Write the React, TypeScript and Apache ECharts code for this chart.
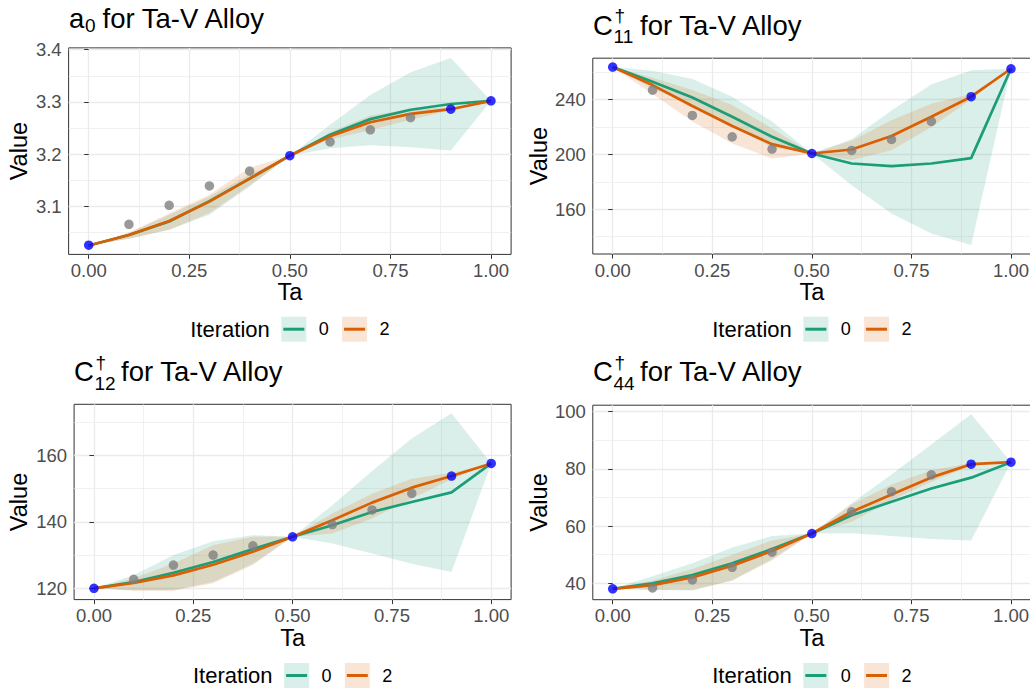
import React, { useEffect, useRef } from "react";
import * as echarts from "echarts";

// ---------- data ----------
const TA = [0, 0.1, 0.2, 0.3, 0.4, 0.5, 0.6, 0.7, 0.8, 0.9, 1.0];
const GREY_TA = [0.1, 0.2, 0.3, 0.4, 0.6, 0.7, 0.8];
const BLUE_TA = [0, 0.5, 0.9, 1.0];
const ITERATIONS = ["0", "2"];

const X_TICKS = [0, 0.25, 0.5, 0.75, 1];
const X_MINOR = [0.125, 0.375, 0.625, 0.875];

// a0
const A0_IT0 = [3.025, 3.045, 3.071, 3.11, 3.153, 3.197, 3.237, 3.267, 3.285, 3.296, 3.302];
const A0_IT2 = [3.025, 3.045, 3.072, 3.109, 3.153, 3.197, 3.234, 3.261, 3.277, 3.286, 3.302];
const A0_B0_LO = [3.025, 3.038, 3.055, 3.084, 3.138, 3.197, 3.211, 3.217, 3.213, 3.207, 3.302];
const A0_B0_HI = [3.025, 3.049, 3.084, 3.119, 3.161, 3.197, 3.256, 3.313, 3.357, 3.384, 3.302];
const A0_B2_LO = [3.025, 3.038, 3.055, 3.087, 3.14, 3.197, 3.228, 3.246, 3.266, 3.284, 3.302];
const A0_B2_HI = [3.025, 3.05, 3.086, 3.122, 3.174, 3.197, 3.242, 3.274, 3.286, 3.289, 3.302];
const A0_GREY = [3.0656, 3.102, 3.139, 3.1675, 3.2236, 3.2465, 3.27];
const A0_BLUE = [3.0255, 3.197, 3.286, 3.302];
const A0_Y_TICKS = [3.1, 3.2, 3.3, 3.4];
const A0_Y_MINOR = [3.05, 3.15, 3.25, 3.35];

// C11
const C11_IT0 = [263.7, 253, 241.6, 227.5, 212.9, 200.7, 193.4, 191.5, 193.4, 197.3, 262.5];
const C11_IT2 = [263.7, 250.6, 235.3, 220.7, 207.5, 200.7, 203.6, 213.4, 227.5, 242.1, 262.5];
const C11_B0_LO = [263.7, 248, 236, 221, 205, 200.7, 177.6, 157, 142.4, 133.9, 262.5];
const C11_B0_HI = [263.7, 261, 255, 242, 224, 200.7, 211, 232, 251, 261.5, 262.5];
const C11_B2_LO = [263.7, 244, 224, 208, 197, 200.7, 196, 203, 220, 240, 262.5];
const C11_B2_HI = [263.7, 256, 247, 236, 219, 200.7, 210, 225, 237, 244, 262.5];
const C11_GREY = [246.9, 228.5, 212.9, 203.9, 202.9, 210.9, 224.1];
const C11_BLUE = [263.7, 200.7, 242.1, 262.5];
const C11_Y_TICKS = [160, 200, 240];
const C11_Y_MINOR = [140, 180, 220, 260];

// C12
const C12_IT0 = [120, 121.9, 124.7, 127.9, 131.8, 135.5, 139, 143, 146, 148.9, 157.6];
const C12_IT2 = [120, 121.6, 123.9, 127.1, 131, 135.5, 140.5, 145.8, 150.3, 153.8, 157.6];
const C12_B0_LO = [120, 119.4, 119.4, 121.9, 127.4, 135.5, 133.5, 130.5, 127.4, 124.9, 157.6];
const C12_B0_HI = [120, 123.9, 130, 134.2, 136, 135.5, 145, 155.3, 165.1, 172.7, 157.6];
const C12_B2_LO = [120, 119.3, 119.3, 121.5, 127, 135.5, 136.5, 141, 147, 152.8, 157.6];
const C12_B2_HI = [120, 123, 127.5, 133, 135.5, 135.5, 142.5, 148.5, 153, 154.8, 157.6];
const C12_GREY = [122.7, 127.0, 130.0, 132.8, 139.2, 143.6, 148.6];
const C12_BLUE = [120, 135.5, 153.8, 157.6];
const C12_Y_TICKS = [120, 140, 160];
const C12_Y_MINOR = [130, 150, 170];

// C44
const C44_IT0 = [38.1, 40, 42.9, 47, 52, 57.4, 63.8, 68.5, 73.1, 76.9, 82.3];
const C44_IT2 = [38.1, 39.4, 42.1, 46.2, 51.3, 57.4, 65, 71, 77, 81.6, 82.3];
const C44_B0_LO = [38.1, 37.8, 37.5, 41, 48.5, 57.4, 57.5, 56.5, 55.5, 55, 82.3];
const C44_B0_HI = [38.1, 42.5, 47, 52.5, 56.5, 57.4, 68, 78, 88.5, 99, 82.3];
const C44_B2_LO = [38.1, 37.7, 37.7, 41, 48, 57.4, 61.5, 69, 75.5, 81, 82.3];
const C44_B2_HI = [38.1, 41, 45, 50, 55, 57.4, 67.5, 74.5, 79.5, 82, 82.3];
const C44_GREY = [38.4, 41.2, 45.6, 50.9, 65, 72, 77.9];
const C44_BLUE = [38.1, 57.4, 81.6, 82.3];
const C44_Y_TICKS = [40, 60, 80, 100];
const C44_Y_MINOR = [50, 70, 90];

const PANELS = [
  { it0: A0_IT0, it2: A0_IT2, b0lo: A0_B0_LO, b0hi: A0_B0_HI, b2lo: A0_B2_LO, b2hi: A0_B2_HI, grey: A0_GREY, blue: A0_BLUE, yTicks: A0_Y_TICKS, yMinor: A0_Y_MINOR, yMin: 3.0079, yMax: 3.4034, dec: 1 },
  { it0: C11_IT0, it2: C11_IT2, b0lo: C11_B0_LO, b0hi: C11_B0_HI, b2lo: C11_B2_LO, b2hi: C11_B2_HI, grey: C11_GREY, blue: C11_BLUE, yTicks: C11_Y_TICKS, yMinor: C11_Y_MINOR, yMin: 127.4, yMax: 270.2, dec: 0 },
  { it0: C12_IT0, it2: C12_IT2, b0lo: C12_B0_LO, b0hi: C12_B0_HI, b2lo: C12_B2_LO, b2hi: C12_B2_HI, grey: C12_GREY, blue: C12_BLUE, yTicks: C12_Y_TICKS, yMinor: C12_Y_MINOR, yMin: 116.6, yMax: 175.4, dec: 0 },
  { it0: C44_IT0, it2: C44_IT2, b0lo: C44_B0_LO, b0hi: C44_B0_HI, b2lo: C44_B2_LO, b2hi: C44_B2_HI, grey: C44_GREY, blue: C44_BLUE, yTicks: C44_Y_TICKS, yMinor: C44_Y_MINOR, yMin: 34.3, yMax: 102.2, dec: 0 },
];

// ---------- layout / style ----------
const FONT = '"Liberation Sans", Arial, Helvetica, sans-serif';
const GREEN = "#1b9e77";
const ORANGE = "#d95f02";
const GREEN_FILL = "rgba(27,158,119,0.16)";
const ORANGE_FILL = "rgba(217,95,2,0.16)";
const TICK_FONT = 18.5;
const AXIS_TITLE_FONT = 23.5;

const LAYOUT = [
  { left: 68.6, top: 47.9, width: 442.5, height: 206.5, nameGapY: 38, legendY: 329.2 },
  { left: 592.8, top: 58.2, width: 438.1, height: 195.8, nameGapY: 42, legendY: 329.2 },
  { left: 74.1, top: 404.3, width: 437, height: 195.3, nameGapY: 43, legendY: 675.5 },
  { left: 592.8, top: 405.2, width: 438.1, height: 194.5, nameGapY: 42, legendY: 675.5 },
];

const TITLES = [
  [
    { text: "a", x: 69, base: 28, size: 27.5 },
    { text: "0", x: 85, base: 32.5, size: 19 },
    { text: "for Ta-V Alloy", x: 102.5, base: 28, size: 27.5 },
  ],
  [
    { text: "C", x: 593, base: 35, size: 27.5 },
    { text: "\u2020", x: 614.5, base: 22.5, size: 19 },
    { text: "11", x: 613.5, base: 43.5, size: 19 },
    { text: "for Ta-V Alloy", x: 640, base: 35, size: 27.5 },
  ],
  [
    { text: "C", x: 74, base: 381.5, size: 27.5 },
    { text: "\u2020", x: 95.5, base: 369, size: 19 },
    { text: "12", x: 94.5, base: 390, size: 19 },
    { text: "for Ta-V Alloy", x: 121, base: 381.5, size: 27.5 },
  ],
  [
    { text: "C", x: 593, base: 381.5, size: 27.5 },
    { text: "\u2020", x: 614.5, base: 369, size: 19 },
    { text: "44", x: 613.5, base: 390, size: 19 },
    { text: "for Ta-V Alloy", x: 640, base: 381.5, size: 27.5 },
  ],
];

function bandSeries(gi: number, lo: number[], hi: number[], fill: string) {
  return {
    type: "custom",
    xAxisIndex: gi * 2,
    yAxisIndex: gi * 2,
    silent: true,
    z: 1,
    data: TA.map((x, i) => [x, lo[i], hi[i]]),
    encode: { x: 0, y: [1, 2] },
    renderItem: (params: any, api: any) => {
      if (params.dataIndex !== 0) return null;
      const pts: number[][] = [];
      for (let i = 0; i < TA.length; i++) pts.push(api.coord([TA[i], hi[i]]));
      for (let i = TA.length - 1; i >= 0; i--) pts.push(api.coord([TA[i], lo[i]]));
      return { type: "polygon", shape: { points: pts }, style: { fill, stroke: "none" } };
    },
  };
}

function buildOption() {
  const grid: any[] = [];
  const xAxis: any[] = [];
  const yAxis: any[] = [];
  const series: any[] = [];
  const graphic: any[] = [];

  PANELS.forEach((p, i) => {
    const L = LAYOUT[i];
    grid.push({
      left: L.left, top: L.top, width: L.width, height: L.height,
      show: true, backgroundColor: "#ffffff", borderColor: "#333333", borderWidth: 1,
      containLabel: false, outerBoundsMode: "none",
    });
    xAxis.push({
      type: "value", gridIndex: i, min: -0.05, max: 1.05,
      name: "Ta", nameLocation: "middle", nameGap: 26, nameMoveOverlap: false,
      nameTextStyle: { fontFamily: FONT, fontSize: AXIS_TITLE_FONT, color: "#000" },
      axisLine: { show: false },
      axisTick: { show: true, length: 4.5, customValues: X_TICKS, lineStyle: { color: "#333", width: 1 } },
      axisLabel: { customValues: X_TICKS, formatter: (v: number) => v.toFixed(2), fontFamily: FONT, fontSize: TICK_FONT, color: "#4d4d4d", margin: 6.5 },
      splitLine: { show: true, lineStyle: { color: "#ebebeb", width: 1.3 } },
    });
    xAxis.push({
      type: "value", gridIndex: i, min: -0.05, max: 1.05,
      axisLine: { show: false },
      axisTick: { show: false, customValues: X_MINOR },
      axisLabel: { show: false, customValues: X_MINOR },
      splitLine: { show: true, lineStyle: { color: "#ebebeb", width: 0.7 } },
    });
    yAxis.push({
      type: "value", gridIndex: i, min: p.yMin, max: p.yMax,
      name: "Value", nameLocation: "middle", nameGap: L.nameGapY, nameRotate: 90, nameMoveOverlap: false,
      nameTextStyle: { fontFamily: FONT, fontSize: AXIS_TITLE_FONT, color: "#000" },
      axisLine: { show: false },
      axisTick: { show: true, length: 4.5, customValues: p.yTicks, lineStyle: { color: "#333", width: 1 } },
      axisLabel: { customValues: p.yTicks, formatter: (v: number) => v.toFixed(p.dec), fontFamily: FONT, fontSize: TICK_FONT, color: "#4d4d4d", margin: 7 },
      splitLine: { show: true, lineStyle: { color: "#ebebeb", width: 1.3 } },
    });
    yAxis.push({
      type: "value", gridIndex: i, min: p.yMin, max: p.yMax,
      axisLine: { show: false },
      axisTick: { show: false, customValues: p.yMinor },
      axisLabel: { show: false, customValues: p.yMinor },
      splitLine: { show: true, lineStyle: { color: "#ebebeb", width: 0.7 } },
    });

    series.push(bandSeries(i, p.b0lo, p.b0hi, GREEN_FILL));
    series.push(bandSeries(i, p.b2lo, p.b2hi, ORANGE_FILL));
    series.push({
      type: "line", name: ITERATIONS[0], xAxisIndex: i * 2, yAxisIndex: i * 2, z: 2,
      data: TA.map((x, k) => [x, p.it0[k]]), symbol: "none", silent: true,
      lineStyle: { color: GREEN, width: 2.7 },
    });
    series.push({
      type: "line", name: ITERATIONS[1], xAxisIndex: i * 2, yAxisIndex: i * 2, z: 2,
      data: TA.map((x, k) => [x, p.it2[k]]), symbol: "none", silent: true,
      lineStyle: { color: ORANGE, width: 2.7 },
    });
    series.push({
      type: "scatter", xAxisIndex: i * 2, yAxisIndex: i * 2, z: 3, silent: true,
      data: GREY_TA.map((x, k) => [x, p.grey[k]]), symbolSize: 9.5,
      itemStyle: { color: "#7f7f7f" },
    });
    series.push({
      type: "scatter", xAxisIndex: i * 2, yAxisIndex: i * 2, z: 3, silent: true,
      data: BLUE_TA.map((x, k) => [x, p.blue[k]]), symbolSize: 9.5,
      itemStyle: { color: "#0000ff" },
    });

    // title
    TITLES[i].forEach((t) => {
      graphic.push({
        type: "text", x: t.x, y: t.base - 0.3465 * t.size, silent: true,
        style: { text: t.text, fontFamily: FONT, fontSize: t.size, lineHeight: Math.round(t.size * 0.95), fill: "#000", align: "left", verticalAlign: "middle" },
      });
    });

    // legend
    const cx = L.left + L.width / 2;
    const ly = L.legendY;
    graphic.push({
      type: "text", x: cx - 99.6, y: ly, silent: true,
      style: { text: "Iteration", fontFamily: FONT, fontSize: 22, fill: "#000", align: "left", verticalAlign: "middle" },
    });
    const keys = [
      { dx: -8.5, fill: GREEN_FILL, color: GREEN, label: ITERATIONS[0] },
      { dx: 52.2, fill: ORANGE_FILL, color: ORANGE, label: ITERATIONS[1] },
    ];
    keys.forEach((k) => {
      graphic.push({ type: "rect", silent: true, shape: { x: cx + k.dx, y: ly - 12.5, width: 25, height: 25 }, style: { fill: k.fill, stroke: "none" } });
      graphic.push({ type: "line", silent: true, shape: { x1: cx + k.dx + 2, y1: ly, x2: cx + k.dx + 23, y2: ly }, style: { stroke: k.color, lineWidth: 3 } });
      graphic.push({
        type: "text", x: cx + k.dx + 37.5, y: ly, silent: true,
        style: { text: k.label, fontFamily: FONT, fontSize: 18, fill: "#000", align: "left", verticalAlign: "middle" },
      });
    });
  });

  return {
    animation: false,
    backgroundColor: "#ffffff",
    grid, xAxis, yAxis, series, graphic,
  };
}

export default function App() {
  const ref = useRef<HTMLDivElement>(null);
  useEffect(() => {
    if (!ref.current) return;
    const chart = echarts.init(ref.current, undefined, { renderer: "svg" });
    chart.setOption(buildOption() as any);
    return () => chart.dispose();
  }, []);
  return (
    <div
      ref={ref}
      style={{ position: "fixed", left: 0, top: 0, width: 1030, height: 691, background: "#fff" }}
    />
  );
}
